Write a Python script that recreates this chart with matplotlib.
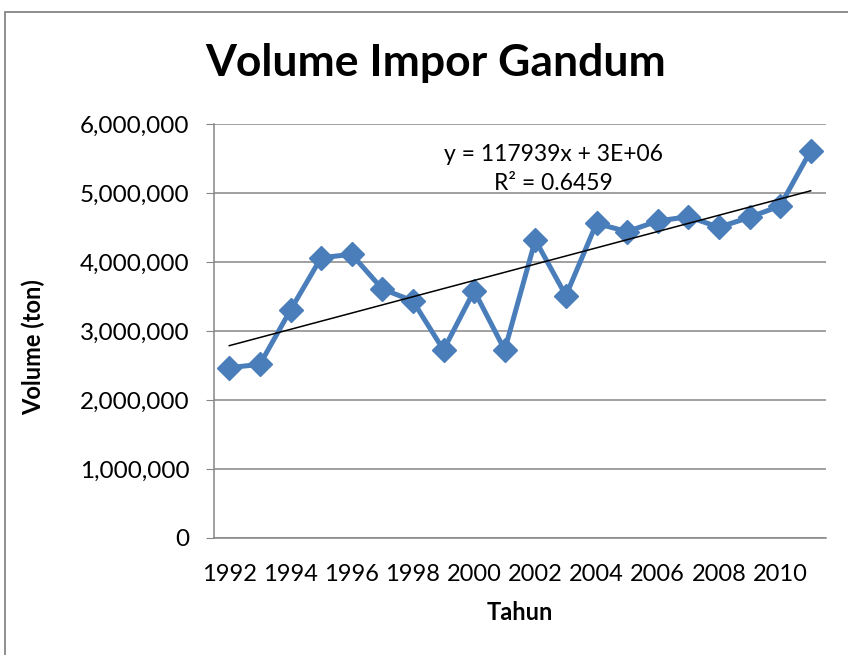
import numpy as np
import matplotlib
matplotlib.use('Agg')
import matplotlib.pyplot as plt
from matplotlib.ticker import FuncFormatter
from matplotlib.patches import Rectangle

# data
tahun = list(range(1992, 2012))
volume = [2468000, 2517000, 3304000, 4062000, 4111000, 3609000, 3435000, 2725000,
          3584000, 2725000, 4319000, 3512000, 4560000, 4440000, 4594000, 4657000,
          4503000, 4647000, 4812000, 5613000]
tick_labels = ['1992', '1994', '1996', '1998', '2000', '2002', '2004', '2006', '2008', '2010']
eq_text = 'y = 117939x + 3E+06\nR² = 0.6459'

plt.rcParams['font.family'] = ['Lato', 'DejaVu Sans']

fig = plt.figure(figsize=(8.48, 6.55), dpi=100)
ax = fig.add_axes([214 / 848, 1 - 538 / 655, 612 / 848, 414 / 655])

# chart border (only left/top visible in reference)
fig.patches.append(Rectangle((5 / 848, -0.1), 1.2, 1 - 12 / 655 + 0.1,
                             transform=fig.transFigure, fill=False,
                             edgecolor='#868686', linewidth=1.3))

x = np.arange(1, len(volume) + 1)
ax.plot(x, volume, color='#4A7EBB', linewidth=3.6, marker='D', markersize=12,
        markeredgecolor='#4A7EBB', zorder=3)

# linear trendline
coef = np.polyfit(x, volume, 1)
ax.plot([x[0], x[-1]], np.polyval(coef, [x[0], x[-1]]), color='black', linewidth=1.1, zorder=4)

ax.text(0.555, 0.891, eq_text, transform=ax.transAxes, ha='center', va='center',
        fontsize=16.5, linespacing=1.45)

ax.set_xlim(0.5, len(volume) + 0.5)
ax.set_ylim(0, 6000000)
ax.set_yticks(np.arange(0, 6000001, 1000000))
ax.yaxis.set_major_formatter(FuncFormatter(lambda v, p: '{:,.0f}'.format(v)))
ax.set_xticks(x[::2])
ax.set_xticklabels(tick_labels)
ax.grid(axis='y', color='#868686', linewidth=1.1)
ax.set_axisbelow(True)

for s in ['top', 'right']:
    ax.spines[s].set_visible(False)
ax.spines['left'].set_color('#868686')
ax.spines['bottom'].set_color('#868686')
ax.spines['left'].set_linewidth(1.1)
ax.spines['bottom'].set_linewidth(1.1)
ax.tick_params(axis='y', length=5.5, color='#868686', labelsize=17.5, pad=12)
ax.tick_params(axis='x', length=0, labelsize=17, pad=19)

fig.text(33 / 848, 1 - 347 / 655, 'Volume (ton)', rotation=90, ha='center', va='center',
         fontsize=17, fontweight='bold')
fig.text(520 / 848, 1 - 612 / 655, 'Tahun', ha='center', va='center',
         fontsize=17, fontweight='bold')
fig.text(436 / 848, 1 - 63 / 655, 'Volume Impor Gandum', ha='center', va='center',
         fontsize=32, fontweight='bold')

fig.savefig('out.png', dpi=100)
